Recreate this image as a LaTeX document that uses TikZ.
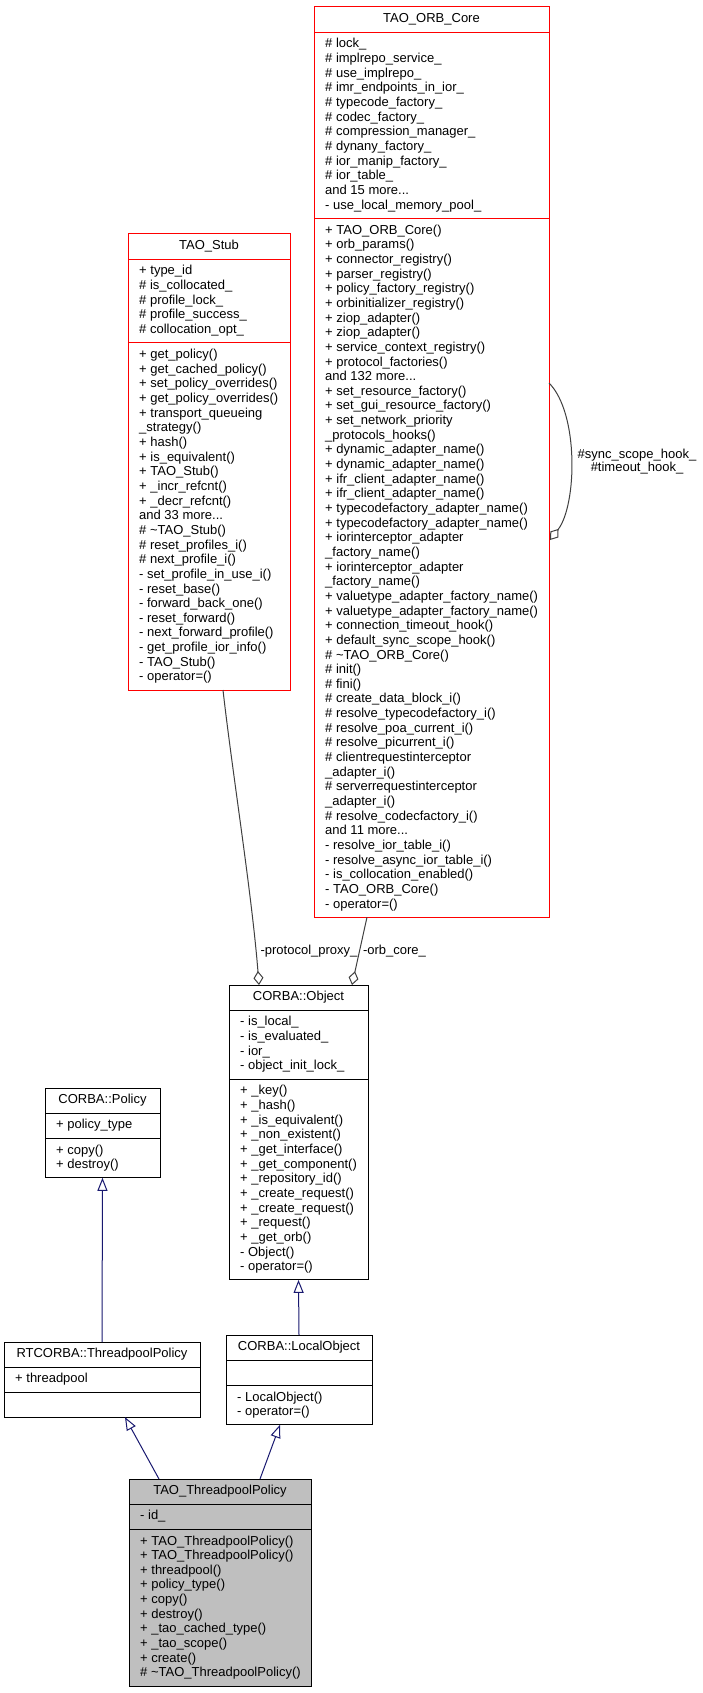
\documentclass[tikz,border=0pt]{standalone}
\usepackage{fontspec}
\setmainfont{Liberation Sans}
\usetikzlibrary{arrows.meta,calc}
\definecolor{navyedge}{HTML}{191970}
\definecolor{aggedge}{HTML}{404040}
\definecolor{tpfill}{HTML}{BFBFBF}
\newcommand\tdots{...}
\tikzset{
  classframe/.style={draw=black, line width=1pt, fill=white, inner sep=0pt, outer sep=0pt},
  redclass/.style={draw=red},
  focusclass/.style={fill=tpfill},
  classtext/.style={font=\fontsize{13}{14.65}\selectfont, inner sep=0pt, text height=9.4pt, text depth=2.6pt},
  inherit/.style={draw=navyedge, line width=1pt, -{Triangle[open,length=13pt,width=10pt]}},
  aggr/.style={draw=aggedge, line width=1pt, -{Diamond[open,length=14pt,width=10pt]}},
  edgelabel/.style={font=\fontsize{13}{13.3}\selectfont, inner sep=0pt, align=center},
}
% #1 style, #2 name, #3 top-left, #4 width, #5 title, #6 attr lines, #7 attrs, #8 method lines, #9 methods
\newcommand\classbox[9][]{%
  \pgfmathsetmacro\hA{#6*14.65+10.4}%
  \pgfmathsetmacro\hM{#8*14.65+10.4}%
  \pgfmathsetmacro\hAll{25.05+\hA+\hM}%
  \pgfmathsetmacro\sA{25.05+\hA}%
  \node[classframe,#1,minimum width=#4pt,minimum height=\hAll pt,anchor=north west] (#2) at (#3) {};
  \draw[classframe,#1,fill=none] ($(#2.north west)+(0,25.05)$) -- ($(#2.north east)+(0,25.05)$);
  \draw[classframe,#1,fill=none] ($(#2.north west)+(0,\sA)$) -- ($(#2.north east)+(0,\sA)$);
  \node[classtext] (#2-title) at ($(#2.north)+(0,12.5)$) {#5};
  \foreach \t [count=\i from 0] in {#7} {\node[classtext,anchor=west] (#2-a\i) at ($(#2.north west)+(11,{37.55+14.65*\i})$) {\t};}
  \foreach \t [count=\i from 0] in {#9} {\node[classtext,anchor=west] (#2-m\i) at ($(#2.north west)+(11,{\sA+12.5+14.65*\i})$) {\t};}
}
\begin{document}
\begin{tikzpicture}[x=1pt,y=-1pt]
\fill[white] (0,0) rectangle (703,1693);
\useasboundingbox (0,0) rectangle (703,1693);

\classbox[redclass]{orb}{314,7}{235}{TAO\_ORB\_Core}{12}{%
\# lock\_, \# implrepo\_service\_, \# use\_implrepo\_, \# imr\_endpoints\_in\_ior\_, \# typecode\_factory\_, \# codec\_factory\_, \# compression\_manager\_, \# dynany\_factory\_, \# ior\_manip\_factory\_, \# ior\_table\_, and 15 more\tdots, - use\_local\_memory\_pool\_}{47}{%
+ TAO\_ORB\_Core(), + orb\_params(), + connector\_registry(), + parser\_registry(), + policy\_factory\_registry(), + orbinitializer\_registry(), + ziop\_adapter(), + ziop\_adapter(), + service\_context\_registry(), + protocol\_factories(), and 132 more\tdots, + set\_resource\_factory(), + set\_gui\_resource\_factory(), + set\_network\_priority, \_protocols\_hooks(), + dynamic\_adapter\_name(), + dynamic\_adapter\_name(), + ifr\_client\_adapter\_name(), + ifr\_client\_adapter\_name(), + typecodefactory\_adapter\_name(), + typecodefactory\_adapter\_name(), + iorinterceptor\_adapter, \_factory\_name(), + iorinterceptor\_adapter, \_factory\_name(), + valuetype\_adapter\_factory\_name(), + valuetype\_adapter\_factory\_name(), + connection\_timeout\_hook(), + default\_sync\_scope\_hook(), \# \textasciitilde TAO\_ORB\_Core(), \# init(), \# fini(), \# create\_data\_block\_i(), \# resolve\_typecodefactory\_i(), \# resolve\_poa\_current\_i(), \# resolve\_picurrent\_i(), \# clientrequestinterceptor, \_adapter\_i(), \# serverrequestinterceptor, \_adapter\_i(), \# resolve\_codecfactory\_i(), and 11 more\tdots, - resolve\_ior\_table\_i(), - resolve\_async\_ior\_table\_i(), - is\_collocation\_enabled(), - TAO\_ORB\_Core(), - operator=()}

\classbox[redclass]{stub}{128,234}{162}{TAO\_Stub}{5}{%
+ type\_id, \# is\_collocated\_, \# profile\_lock\_, \# profile\_success\_, \# collocation\_opt\_}{23}{%
+ get\_policy(), + get\_cached\_policy(), + set\_policy\_overrides(), + get\_policy\_overrides(), + transport\_queueing, \_strategy(), + hash(), + is\_equivalent(), + TAO\_Stub(), + \_incr\_refcnt(), + \_decr\_refcnt(), and 33 more\tdots, \# \textasciitilde TAO\_Stub(), \# reset\_profiles\_i(), \# next\_profile\_i(), - set\_profile\_in\_use\_i(), - reset\_base(), - forward\_back\_one(), - reset\_forward(), - next\_forward\_profile(), - get\_profile\_ior\_info(), - TAO\_Stub(), - operator=()}

\classbox{obj}{229,985}{139}{CORBA::Object}{4}{%
- is\_local\_, - is\_evaluated\_, - ior\_, - object\_init\_lock\_}{13}{%
+ \_key(), + \_hash(), + \_is\_equivalent(), + \_non\_existent(), + \_get\_interface(), + \_get\_component(), + \_repository\_id(), + \_create\_request(), + \_create\_request(), + \_request(), + \_get\_orb(), - Object(), - operator=()}

\classbox{pol}{45,1088}{115}{CORBA::Policy}{1}{+ policy\_type}{2}{+ copy(), + destroy()}

\classbox{rt}{4,1342}{196}{RTCORBA::ThreadpoolPolicy}{1}{+ threadpool}{1}{}

\classbox{lo}{226,1335}{146}{CORBA::LocalObject}{1}{}{2}{- LocalObject(), - operator=()}

\classbox[focusclass]{tp}{129,1479}{182}{TAO\_ThreadpoolPolicy}{1}{- id\_}{10}{%
+ TAO\_ThreadpoolPolicy(), + TAO\_ThreadpoolPolicy(), + threadpool(), + policy\_type(), + copy(), + destroy(), + \_tao\_cached\_type(), + \_tao\_scope(), + create(), \# \textasciitilde TAO\_ThreadpoolPolicy()}

% aggregation connectors
\coordinate (stubout) at ($(stub.south west)+(95,0)$);
\coordinate (objin1) at ($(obj.north west)+(30,0)$);
\draw[aggr] (stubout) .. controls ($(stubout)+(9,80)$) and ($(objin1)+(-7,-90)$) .. (objin1);
\coordinate (orbout) at ($(orb.south west)+(53,0)$);
\coordinate (objin2) at ($(obj.north west)+(123,0)$);
\draw[aggr] (orbout) -- (objin2);
\node[edgelabel] (lblproxy) at (309,951) {-protocol\_proxy\_};
\node[edgelabel] (lblorb) at (394.5,951) {-orb\_core\_};

\coordinate (loopout) at ($(orb.north east)+(0,376)$);
\coordinate (loopin) at ($(orb.north east)+(1,533)$);
\draw[aggr] (loopout) .. controls ($(loopout)+(30,30)$) and ($(loopin)+(27,-35)$) .. (loopin);
\node[edgelabel] (lblloop) at (637,461.5) {\#sync\_scope\_hook\_\\\#timeout\_hook\_};

% inheritance connectors
\draw[inherit] (rt.north) -- (pol.south);
\draw[inherit] (lo.north) -- (obj.south);
\coordinate (tpl) at ($(tp.north west)+(30,0)$);
\coordinate (rtb) at ($(rt.south west)+(121,0)$);
\draw[inherit] (tpl) -- (rtb);
\coordinate (tpr) at ($(tp.north west)+(131,0)$);
\coordinate (lob) at ($(lo.south west)+(54,0)$);
\draw[inherit] (tpr) -- (lob);
\end{tikzpicture}
\end{document}
